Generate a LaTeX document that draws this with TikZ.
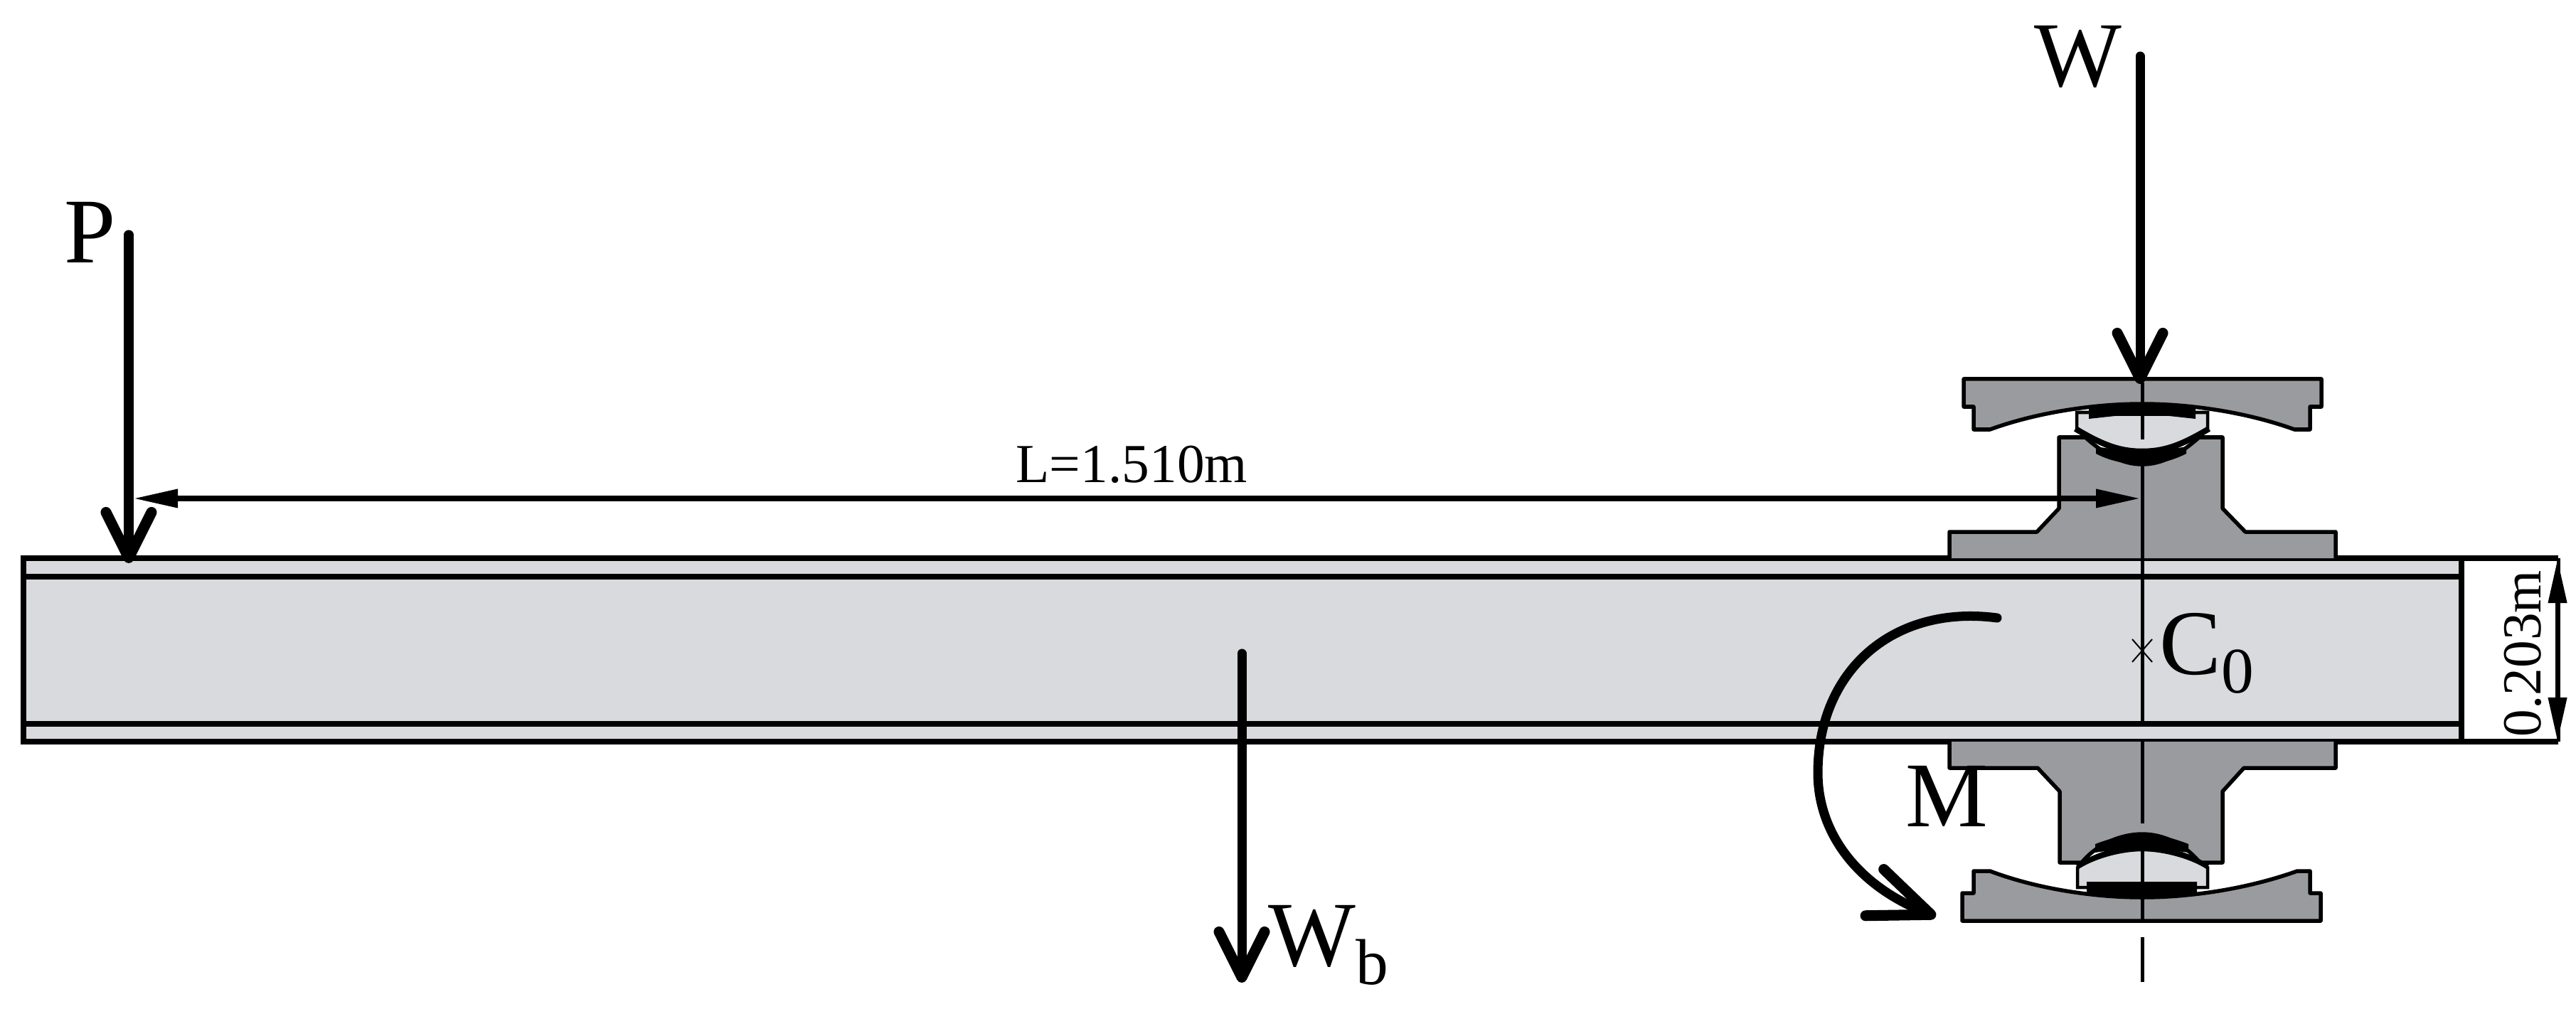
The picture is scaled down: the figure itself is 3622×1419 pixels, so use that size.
\documentclass[tikz,border=0pt]{standalone}
\usepackage{fontspec}
\setmainfont{Liberation Serif}
\usetikzlibrary{arrows.meta}
\definecolor{beamgray}{HTML}{D8DADD}
\definecolor{seatgray}{HTML}{9A9B9F}
\tikzset{
    beamline/.style={line width=0.08cm},
    seatpart/.style={draw, fill=seatgray, line width=0.055cm, line join=round},
    lenspart/.style={draw, fill=beamgray, line width=0.045cm},
    padpart/.style={fill=black},
    axisline/.style={line width=0.05cm},
    force/.style={line width=0.13cm, line cap=round, -{Straight Barb[length=0.64cm,width=0.64cm,line width=0.15cm,line cap=round,round]}},
    moment/.style={line width=0.13cm, line cap=round, -{Straight Barb[length=0.85cm,width=0.7cm,line width=0.15cm,line cap=round,round]}},
    dimen/.style={line width=0.07cm, {Triangle[length=0.62cm,width=0.25cm]}-{Triangle[length=0.62cm,width=0.25cm]}},
    biglab/.style={inner sep=0pt, anchor=base west, font=\fontsize{37}{40}\selectfont},
    smalllab/.style={inner sep=0pt, anchor=base west, font=\fontsize{22}{24}\selectfont}
}
\newcommand{\lowsub}[1]{\raisebox{-0.26cm}{\fontsize{26}{28}\selectfont #1}}
\begin{document}
\begin{tikzpicture}[x=0.01cm, y=-0.01cm]
    \useasboundingbox (0,0) rectangle (3622,1419);
    % beam
    \fill [beamgray] (33,785) rectangle (3461,1043);
    \draw [beamline] (33,811)--(3461,811);
    \draw [beamline] (33,1018)--(3461,1018);
    \draw [beamline] (3461,785)--(3461,1043);
    \draw [beamline] (3597,1043)--(33,1043)--(33,785)--(3597,785);
    \draw [line width=0.05cm] (3597,785)--(3597,1043);
    % upper seat
    \draw [seatpart] (2741,785)--(2741,748)--(2864,748)--(2895,715)--(2895,615)--(2932,615)
        .. controls (2960,640) and (2985,653) .. (3012,653)
        .. controls (3039,653) and (3064,640) .. (3092,615)
        --(3125,615)--(3125,715)--(3157,748)--(3284,748)--(3284,785);
    \draw [seatpart] (2761,533)--(3264,533)--(3264,572)--(3248,572)--(3248,604)--(3226,604)
        .. controls (3160,580) and (3080,568) .. (3012,568)
        .. controls (2944,568) and (2864,580) .. (2798,604)
        --(2775,604)--(2775,572)--(2761,572)--cycle;
    \draw [lenspart] (2920,580)--(3104,580)--(3104,602)
        .. controls (3064,626) and (3040,633) .. (3012,633)
        .. controls (2984,633) and (2960,626) .. (2920,602)--cycle;
    \draw [line width=0.08cm] (2918,603) .. controls (2960,628) and (2984,636) .. (3012,636)
        .. controls (3040,636) and (3064,628) .. (3106,603);
    \fill [padpart] (2947,628) .. controls (2970,632) and (2990,633) .. (3012,633)
        .. controls (3034,633) and (3054,632) .. (3074,628)--(3074,638)
        .. controls (3050,650) and (3030,653) .. (3012,653)
        .. controls (2994,653) and (2970,650) .. (2947,638)--cycle;
    \fill [padpart] (2937,571) .. controls (2960,568) and (2990,568) .. (3012,568)
        .. controls (3034,568) and (3064,568) .. (3087,571)--(3087,589)--(3050,585)--(2974,585)--(2937,589)--cycle;
    % lower seat
    \draw [seatpart] (2741,1043)--(2741,1080)--(2865,1080)--(2896,1113)--(2896,1213)--(2927,1213)
        .. controls (2950,1185) and (2985,1173) .. (3012,1173)
        .. controls (3039,1173) and (3070,1185) .. (3093,1213)
        --(3125,1213)--(3125,1113)--(3155,1080)--(3284,1080)--(3284,1043);
    \draw [seatpart] (2759,1295)--(3263,1295)--(3263,1256)--(3248,1256)--(3248,1225)--(3230,1225)
        .. controls (3160,1250) and (3080,1262) .. (3012,1262)
        .. controls (2944,1262) and (2864,1250) .. (2798,1225)
        --(2775,1225)--(2775,1256)--(2759,1256)--cycle;
    \draw [lenspart] (2921,1220) .. controls (2950,1203) and (2985,1195) .. (3012,1195)
        .. controls (3039,1195) and (3075,1203) .. (3104,1220)--(3104,1248)--(2921,1248)--cycle;
    \draw [line width=0.07cm] (2921,1219) .. controls (2950,1200) and (2985,1192) .. (3012,1192)
        .. controls (3039,1192) and (3075,1200) .. (3104,1219);
    \fill [padpart] (2946,1187) .. controls (2975,1176) and (2995,1173) .. (3012,1173)
        .. controls (3029,1173) and (3049,1176) .. (3077,1187)--(3077,1199)
        .. controls (3050,1195) and (3030,1195) .. (3012,1195)
        .. controls (2994,1195) and (2970,1195) .. (2946,1199)--cycle;
    \fill [padpart] (2934,1240)--(3089,1240)--(3089,1256)--(3050,1262)--(3012,1264)--(2974,1262)--(2934,1256)--cycle;
    % axis
    \draw [axisline] (3012,538)--(3012,618);
    \draw [axisline] (3012,653)--(3012,1022);
    \draw [axisline] (3012,1043)--(3012,1158);
    \draw [axisline] (3012,1195)--(3012,1295);
    \draw [axisline] (3012,1318)--(3012,1381);
    \coordinate (cpt) at (3012,915);
    \draw [line width=0.02cm] (2998,899)--(3026,931);
    \draw [line width=0.02cm] (2998,931)--(3026,899);
    % loads
    \coordinate (Ptop) at (181,330);
    \coordinate (Ptip) at (181,792);
    \coordinate (Wtop) at (3009,79);
    \coordinate (Wtip) at (3009,540);
    \coordinate (Wbtop) at (1746,919);
    \coordinate (Wbtip) at (1746,1382);
    \coordinate (Mstart) at (2808,869);
    \coordinate (Mmid) at (2556,1087);
    \coordinate (Mtip) at (2722,1289);
    \draw [force] (Ptop)--(Ptip);
    \draw [force] (Wtop)--(Wtip);
    \draw [force] (Wbtop)--(Wbtip);
    \draw [moment] (Mstart) .. controls (2665,850) and (2556,940) .. (Mmid)
        .. controls (2556,1170) and (2610,1245) .. (Mtip);
    % dimensions
    \coordinate (Lleft) at (188,701);
    \coordinate (Lright) at (3009,701);
    \coordinate (Hup) at (3596,786);
    \coordinate (Hdown) at (3596,1043);
    \draw [dimen] (Lleft)--(Lright);
    \draw [dimen] (Hup)--(Hdown);
    % labels
    \node [biglab] (Plab) at (90,370) {P};
    \node [biglab] (Wlab) at (2860,122) {W};
    \node [biglab] (Wblab) at (1783,1358) {W\lowsub{b}};
    \node [biglab] (Clab) at (3036,948) {C\lowsub{0}};
    \node [biglab] (Mlab) at (2679,1162) {M};
    \node [smalllab] (Llab) at (1428,679) {L=1.510m};
    \node [smalllab, rotate=90] (Hlab) at (3572,1037) {0.203m};
\end{tikzpicture}
\end{document}
